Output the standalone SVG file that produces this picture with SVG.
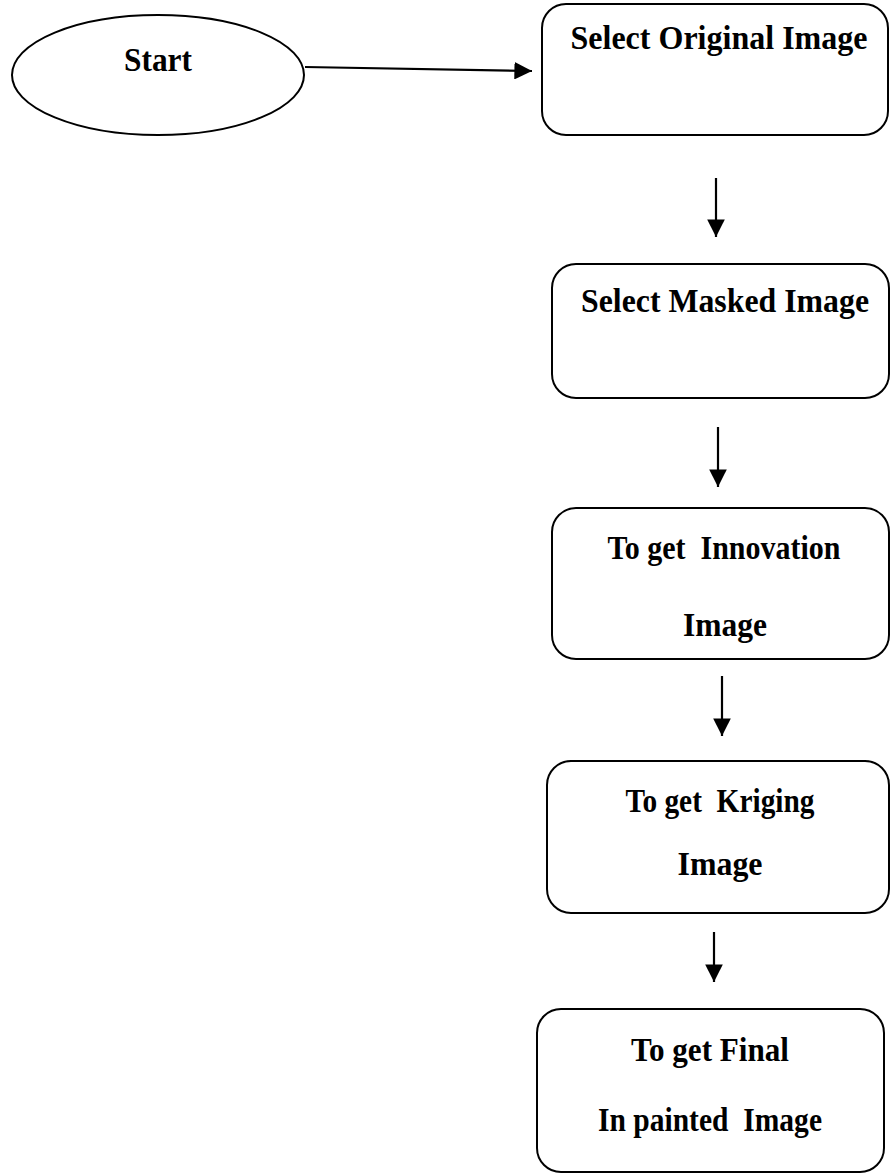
<svg xmlns="http://www.w3.org/2000/svg" width="890" height="1173" viewBox="0 0 890 1173">
<style>
.node{fill:#fff;stroke:#000;stroke-width:2}
.lbl{font-family:"Liberation Serif","Times New Roman",serif;font-weight:bold;font-size:34px;fill:#000;text-anchor:middle}
.edge{stroke:#000;stroke-width:2.2;fill:none}
</style>
<defs>
<marker id="ah" markerWidth="8" markerHeight="8" refX="8" refY="4" orient="auto" markerUnits="strokeWidth">
<path d="M0,0 L8,4 L0,8 Z" fill="#000"/>
</marker>
</defs>
<rect width="890" height="1173" fill="#fff"/>
<g id="connectors">
<line class="edge" x1="305" y1="67" x2="532" y2="71" marker-end="url(#ah)"/>
<line class="edge" x1="716" y1="178" x2="716" y2="237" marker-end="url(#ah)"/>
<line class="edge" x1="718" y1="427" x2="718" y2="487" marker-end="url(#ah)"/>
<line class="edge" x1="722" y1="676" x2="722" y2="736" marker-end="url(#ah)"/>
<line class="edge" x1="714" y1="932" x2="714" y2="982" marker-end="url(#ah)"/>
</g>
<g id="start">
<ellipse class="node" cx="158" cy="75" rx="146" ry="60"/>
<text class="lbl" x="158" y="71" textLength="68" lengthAdjust="spacingAndGlyphs">Start</text>
</g>
<g id="select-original">
<rect class="node" x="542" y="4" width="346" height="131" rx="24" ry="24"/>
<text class="lbl" x="719" y="49" textLength="297" lengthAdjust="spacingAndGlyphs">Select Original Image</text>
</g>
<g id="select-masked">
<rect class="node" x="552" y="264" width="337" height="134" rx="24" ry="24"/>
<text class="lbl" x="725" y="312" textLength="288" lengthAdjust="spacingAndGlyphs">Select Masked Image</text>
</g>
<g id="innovation">
<rect class="node" x="552" y="508" width="337" height="151" rx="24" ry="24"/>
<text class="lbl" x="724" y="559" textLength="233" lengthAdjust="spacingAndGlyphs" xml:space="preserve">To get  Innovation</text>
<text class="lbl" x="725" y="636" textLength="84" lengthAdjust="spacingAndGlyphs">Image</text>
</g>
<g id="kriging">
<rect class="node" x="547" y="761" width="342" height="152" rx="24" ry="24"/>
<text class="lbl" x="720" y="812" textLength="189" lengthAdjust="spacingAndGlyphs" xml:space="preserve">To get  Kriging</text>
<text class="lbl" x="720" y="875" textLength="85" lengthAdjust="spacingAndGlyphs">Image</text>
</g>
<g id="final">
<rect class="node" x="537" y="1009" width="347" height="163" rx="24" ry="24"/>
<text class="lbl" x="710" y="1061" textLength="158" lengthAdjust="spacingAndGlyphs">To get Final</text>
<text class="lbl" x="710" y="1131" textLength="224" lengthAdjust="spacingAndGlyphs" xml:space="preserve">In painted  Image</text>
</g>
</svg>
